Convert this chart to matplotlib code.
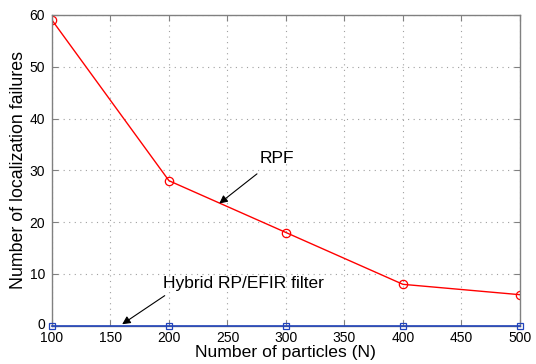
import matplotlib
matplotlib.use('Agg')
import matplotlib.pyplot as plt
from matplotlib.transforms import ScaledTranslation

plt.rcParams['font.family'] = ['Liberation Sans', 'DejaVu Sans']

# Данные
particles = [100, 200, 300, 400, 500]
rpf_failures = [59, 28, 18, 8, 6]
hybrid_failures = [0, 0, 0, 0, 0]

fig = plt.figure(figsize=(5.36, 3.64), dpi=100)
ax = fig.add_axes([0.097, 0.105, 0.873, 0.854])

ax.plot(particles, rpf_failures, color='#ff0000', lw=1.0, marker='o',
        ms=6, mfc='none', mec='#ff0000', mew=0.9)
ax.plot(particles, hybrid_failures, color='#2244bb', lw=1.2, marker='s',
        ms=5, mfc='none', mec='#2244bb', mew=0.9, clip_on=False, zorder=5)

ax.set_xlim(100, 500)
ax.set_ylim(0, 60)
ax.set_xticks(range(100, 501, 50))
ax.set_yticks(range(0, 61, 10))
ax.grid(True, linestyle=(0, (1, 4)), color='#a0a0a0', lw=0.8)
ax.tick_params(direction='in', length=4, labelsize=10, colors='#808080',
               labelcolor='black', top=True, right=True)
ax.tick_params(axis='x', pad=4)
ax.tick_params(axis='y', pad=5)
for s in ax.spines.values():
    s.set_color('#808080')
    s.set_linewidth(1.0)

# чуть приподнять подпись "0", чтобы не налезала на "100"
lab0 = ax.yaxis.get_major_ticks()[0].label1
lab0.set_transform(lab0.get_transform() + ScaledTranslation(0, 2 / 72, fig.dpi_scale_trans))

ax.set_xlabel('Number of particles (N)', fontsize=12.6, labelpad=0)
ax.set_ylabel('Number of localization failures', fontsize=12.8, labelpad=2)

ax.annotate('RPF', xy=(243, 23.6), xytext=(292, 32.3), fontsize=12.5,
            ha='center', va='center',
            arrowprops=dict(arrowstyle='-|>', color='black', lw=0.8,
                            shrinkA=6, shrinkB=0, mutation_scale=12))
ax.annotate('Hybrid RP/EFIR filter', xy=(160, 0.3), xytext=(195, 8.1),
            fontsize=12.5, ha='left', va='center',
            arrowprops=dict(arrowstyle='-|>', color='black', lw=0.8,
                            shrinkA=2, shrinkB=0, mutation_scale=12,
                            relpos=(0.05, 0.0)))

fig.savefig('out.png', dpi=100)
